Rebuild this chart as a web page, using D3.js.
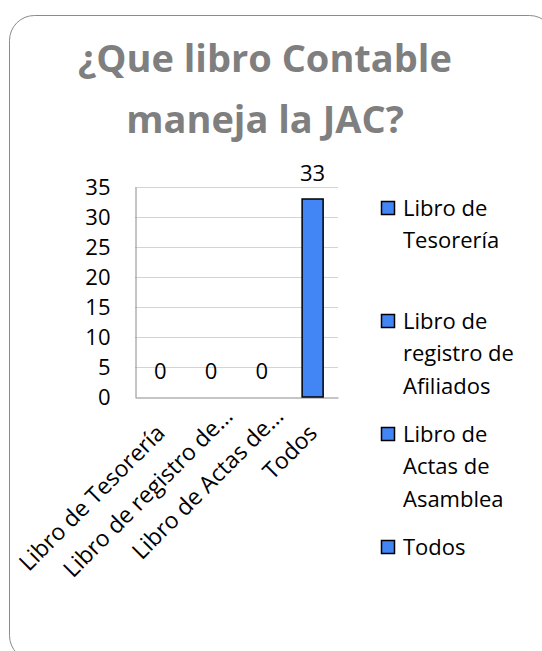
<!DOCTYPE html>
<html>
<head>
<meta charset="utf-8">
<script src="https://cdnjs.cloudflare.com/ajax/libs/d3/7.8.5/d3.min.js"></script>
<style>
  body { margin: 0; background: #fff; }
  svg { display: block; font-family: "Open Sans", sans-serif; }
</style>
</head>
<body>
<svg width="542" height="651"></svg>
<script>
const categories = ["Libro de Tesorería", "Libro de registro de Afiliados", "Libro de Actas de Asamblea", "Todos"];
const axisLabels = ["Libro de Tesorería", "Libro de registro de…", "Libro de Actas de…", "Todos"];
const legendLines = [["Libro de", "Tesorería"], ["Libro de", "registro de", "Afiliados"], ["Libro de", "Actas de", "Asamblea"], ["Todos"]];
const values = [0, 0, 0, 33];
const yTicks = [0, 5, 10, 15, 20, 25, 30, 35];
const titleLines = ["¿Que libro Contable", "maneja la JAC?"];

const svg = d3.select("svg");
const barColor = "#4285f4";

// outer frame
svg.append("rect")
  .attr("x", 9.5).attr("y", 15.5)
  .attr("width", 545).attr("height", 645)
  .attr("rx", 25)
  .attr("fill", "#fff")
  .attr("stroke", "#8a8a8a");

// title
svg.append("g")
  .selectAll("text")
  .data(titleLines)
  .enter()
  .append("text")
  .attr("x", 265)
  .attr("y", (d, i) => 72 + i * 61)
  .attr("text-anchor", "middle")
  .attr("font-size", 38)
  .attr("font-weight", "bold")
  .attr("fill", "#7f7f7f")
  .text(d => d);

const x = d3.scaleBand()
  .domain(categories)
  .range([135, 338])
  .paddingInner(0.586)
  .paddingOuter(0.293);

const y = d3.scaleLinear()
  .domain([0, 35])
  .range([397, 187]);

// gridlines
svg.append("g")
  .selectAll("line")
  .data(yTicks.filter(t => t > 0))
  .enter()
  .append("line")
  .attr("x1", 135).attr("x2", 338)
  .attr("y1", d => Math.round(y(d)) + 0.5)
  .attr("y2", d => Math.round(y(d)) + 0.5)
  .attr("stroke", "#d4d4d4");

// y axis
const yAxis = svg.append("g")
  .attr("transform", "translate(135.5,0)")
  .call(d3.axisLeft(y).tickValues(yTicks).tickSize(0).tickPadding(25));
yAxis.select(".domain").attr("stroke", "#8a8a8a");
yAxis.selectAll("text")
  .attr("font-size", 22)
  .attr("font-family", "Open Sans")
  .attr("fill", "#000");

// x axis, truncated labels let the ellipsis hang past the tick like Excel does
const xAxis = svg.append("g")
  .attr("transform", "translate(0,397.5)")
  .call(d3.axisBottom(x).tickSize(0).tickFormat((d, i) => axisLabels[i]));
xAxis.select(".domain").attr("stroke", "#8a8a8a");
xAxis.selectAll("text")
  .attr("font-size", 23)
  .attr("font-family", "Open Sans")
  .attr("fill", "#000")
  .attr("text-anchor", "end")
  .attr("transform", "translate(6,37) rotate(-45)")
  .attr("dy", 0)
  .attr("y", 0)
  .attr("x", (d, i) => axisLabels[i].endsWith("…") ? 24 : 0);

// bars
svg.append("g")
  .selectAll("rect")
  .data(values)
  .enter()
  .append("rect")
  .attr("x", (d, i) => x(categories[i]))
  .attr("y", d => y(d))
  .attr("width", x.bandwidth())
  .attr("height", d => y(0) - y(d))
  .attr("fill", barColor)
  .attr("stroke", "#000")
  .attr("stroke-width", 1.5);

// value labels
svg.append("g")
  .selectAll("text")
  .data(values)
  .enter()
  .append("text")
  .attr("x", (d, i) => x(categories[i]) + x.bandwidth() / 2)
  .attr("y", d => y(d) - 18)
  .attr("text-anchor", "middle")
  .attr("font-size", 22)
  .text(d => d);

// legend
const legend = svg.append("g")
  .selectAll("g")
  .data(legendLines)
  .enter()
  .append("g")
  .attr("transform", (d, i) => `translate(381,${208 + i * 113})`);

legend.append("rect")
  .attr("x", 0.5).attr("y", -6.5)
  .attr("width", 13).attr("height", 13)
  .attr("fill", barColor)
  .attr("stroke", "#000")
  .attr("stroke-width", 1.5);

legend.append("text")
  .attr("font-size", 22)
  .selectAll("tspan")
  .data(d => d)
  .enter()
  .append("tspan")
  .attr("x", 22)
  .attr("y", (d, i) => i * 32.5)
  .attr("dy", "0.35em")
  .text(d => d);
</script>
</body>
</html>
